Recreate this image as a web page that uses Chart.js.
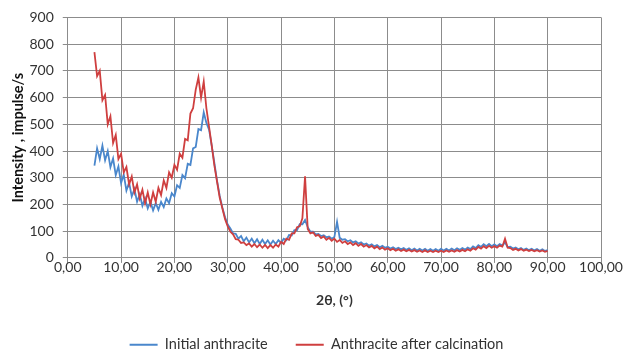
<!DOCTYPE html>
<html>
<head>
<meta charset="utf-8">
<script src="https://cdn.jsdelivr.net/npm/chart.js@4/dist/chart.umd.min.js"></script>
<style>
  body { margin: 0; background: #fff; }
  canvas { display: block; }
</style>
</head>
<body>
<canvas id="xrdChart" width="625" height="350"></canvas>
<script>
// 2theta angles, degrees
var angles = [
  5.0, 5.5, 6.0, 6.5, 7.0, 7.5, 8.0, 8.5, 9.0, 9.5,
  10.0, 10.5, 11.0, 11.5, 12.0, 12.5, 13.0, 13.5, 14.0, 14.5,
  15.0, 15.5, 16.0, 16.5, 17.0, 17.5, 18.0, 18.5, 19.0, 19.5,
  20.0, 20.5, 21.0, 21.5, 22.0, 22.5, 23.0, 23.5, 24.0, 24.5,
  25.0, 25.5, 26.0, 26.5, 27.0, 27.5, 28.0, 28.5, 29.0, 29.5,
  30.0, 30.5, 31.0, 31.5, 32.0, 32.5, 33.0, 33.5, 34.0, 34.5,
  35.0, 35.5, 36.0, 36.5, 37.0, 37.5, 38.0, 38.5, 39.0, 39.5,
  40.0, 40.5, 41.0, 41.5, 42.0, 42.5, 43.0, 43.5, 44.0, 44.5,
  45.0, 45.5, 46.0, 46.5, 47.0, 47.5, 48.0, 48.5, 49.0, 49.5,
  50.0, 50.5, 51.0, 51.5, 52.0, 52.5, 53.0, 53.5, 54.0, 54.5,
  55.0, 55.5, 56.0, 56.5, 57.0, 57.5, 58.0, 58.5, 59.0, 59.5,
  60.0, 60.5, 61.0, 61.5, 62.0, 62.5, 63.0, 63.5, 64.0, 64.5,
  65.0, 65.5, 66.0, 66.5, 67.0, 67.5, 68.0, 68.5, 69.0, 69.5,
  70.0, 70.5, 71.0, 71.5, 72.0, 72.5, 73.0, 73.5, 74.0, 74.5,
  75.0, 75.5, 76.0, 76.5, 77.0, 77.5, 78.0, 78.5, 79.0, 79.5,
  80.0, 80.5, 81.0, 81.5, 82.0, 82.5, 83.0, 83.5, 84.0, 84.5,
  85.0, 85.5, 86.0, 86.5, 87.0, 87.5, 88.0, 88.5, 89.0, 89.5,
  90.0
];

// Initial anthracite, impulse/s (top/bottom)
var initialValues = [
  345, 410, 370, 420, 365, 400, 340, 372, 310, 342,
  280, 312, 252, 282, 230, 258, 210, 238, 195, 222,
  185, 210, 178, 205, 180, 210, 190, 222, 205, 242,
  230, 272, 262, 310, 298, 352, 348, 410, 415, 482,
  478, 545, 505, 480, 420, 355, 288, 232, 188, 152,
  125, 110, 92, 90, 72, 82, 62, 76, 58, 72,
  55, 70, 52, 68, 52, 66, 50, 64, 52, 66,
  56, 72, 66, 86, 84, 104, 104, 126, 126, 142,
  115, 98, 98, 88, 90, 82, 85, 77, 80, 72,
  78, 135, 75, 68, 70, 62, 66, 58, 62, 54,
  58, 50, 54, 46, 51, 43, 48, 40, 45, 38,
  42, 35, 40, 33, 38, 32, 37, 30, 36, 29,
  35, 28, 34, 28, 34, 27, 33, 27, 33, 27,
  34, 28, 34, 28, 35, 29, 36, 30, 37, 31,
  39, 33, 43, 37, 48, 41, 51, 44, 52, 44,
  51, 44, 52, 46, 58, 40, 42, 35, 39, 32,
  37, 30, 35, 29, 34, 28, 33, 27, 32, 26,
  29
];

// Anthracite after calcination, impulse/s
var calcinedValues = [
  770, 680, 700, 590, 610, 500, 530, 430, 460, 370,
  390, 320, 340, 275, 305, 245, 275, 222, 255, 205,
  245, 200, 245, 210, 262, 235, 290, 262, 320, 300,
  348, 330, 390, 375, 445, 440, 540, 560, 630, 675,
  600, 660, 560, 490, 420, 345, 285, 225, 185, 145,
  118, 98, 88, 70, 68, 56, 58, 48, 54, 42,
  52, 40, 50, 38, 49, 37, 48, 38, 50, 42,
  60, 52, 72, 68, 92, 92, 115, 118, 148, 305,
  108, 92, 96, 82, 86, 74, 80, 68, 75, 64,
  72, 60, 67, 56, 62, 52, 58, 48, 55, 45,
  52, 42, 48, 39, 45, 36, 42, 33, 39, 31,
  36, 29, 34, 27, 32, 26, 31, 25, 30, 24,
  29, 23, 28, 22, 28, 22, 27, 22, 27, 22,
  27, 22, 28, 23, 28, 23, 29, 24, 30, 25,
  32, 27, 36, 31, 41, 35, 44, 37, 45, 38,
  44, 38, 46, 42, 72, 38, 37, 30, 34, 28,
  33, 27, 31, 26, 30, 25, 29, 24, 28, 23,
  26
];

var seriesNames = ["Initial anthracite", "Anthracite after calcination"];

function toPoints(ys){
    var pts = [];
    for (var i = 0; i < angles.length; i++) {
        pts.push({x: angles[i], y: ys[i]});
    }
    return pts;
}

var gridColor = "#8c8c8c";
var font = "Lato, 'Open Sans', sans-serif";

// nudge the legend a little to the right, like the original
var legendNudge = {
    id: "legendNudge",
    afterLayout: function(chart){
        chart.legend.left += 11;
        chart.legend.right += 11;
    }
};

var ctx = document.getElementById("xrdChart");
new Chart(ctx, {
    type: "line",
    data: {
        datasets: [{
            label: seriesNames[0],
            data: toPoints(initialValues),
            borderColor: "#4a87cc",
            backgroundColor: "#4a87cc",
            borderWidth: 1.8,
            pointRadius: 0,
            fill: false,
            order: 1
        }, {
            label: seriesNames[1],
            data: toPoints(calcinedValues),
            borderColor: "#cf3f3f",
            backgroundColor: "#cf3f3f",
            borderWidth: 1.8,
            pointRadius: 0,
            fill: false,
            order: 0
        }]
    },
    plugins: [legendNudge],
    options: {
        responsive: false,
        animation: false,
        layout: { padding: { left: 10, right: 24, top: 17, bottom: -12 } },
        scales: {
            x: {
                type: "linear",
                min: 0,
                max: 100,
                ticks: {
                    stepSize: 10,
                    color: "#333",
                    padding: -4,
                    font: { family: font, size: 14 },
                    maxRotation: 0,
                    callback: function(v){ return v.toFixed(2).replace(".", ","); }
                },
                grid: { color: gridColor, tickLength: 5 },
                border: { color: gridColor },
                title: {
                    display: true,
                    text: "2θ, (°)",
                    color: "#333",
                    font: { family: font, size: 14, weight: "bold" },
                    padding: { top: 20, bottom: 1 }
                }
            },
            y: {
                min: 0,
                max: 900,
                ticks: {
                    stepSize: 100,
                    color: "#333",
                    padding: 9,
                    font: { family: font, size: 14 }
                },
                grid: { color: gridColor, tickLength: 5 },
                border: { color: gridColor },
                title: {
                    display: true,
                    text: "Intensity , impulse/s",
                    color: "#111",
                    font: { family: font, size: 14.5, weight: "bold" },
                    padding: { top: 0, bottom: -7 }
                }
            }
        },
        plugins: {
            legend: {
                position: "bottom",
                labels: {
                    usePointStyle: true,
                    pointStyle: "line",
                    pointStyleWidth: 28,
                    color: "#333",
                    font: { family: font, size: 14.5 },
                    padding: 28,
                    sort: function(a, b){ return a.datasetIndex - b.datasetIndex; }
                }
            },
            tooltip: { enabled: false }
        }
    }
});
</script>
</body>
</html>
